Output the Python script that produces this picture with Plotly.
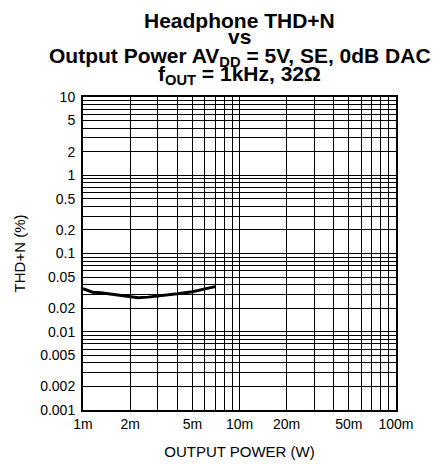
import plotly.graph_objects as go

# Data
power_w = [0.001, 0.00115, 0.0013, 0.0016, 0.0019, 0.00225, 0.0026, 0.0032, 0.004, 0.005, 0.006, 0.007]
thd_pct = [0.0355, 0.032, 0.0315, 0.030, 0.0285, 0.0272, 0.0277, 0.0288, 0.0305, 0.0325, 0.035, 0.0377]

x_label_vals = [0.001, 0.002, 0.005, 0.01, 0.02, 0.05, 0.1]
x_label_text = ["1m", "2m", "5m", "10m", "20m", "50m", "100m"]
y_label_vals = [10, 5, 2, 1, 0.5, 0.2, 0.1, 0.05, 0.02, 0.01, 0.005, 0.002, 0.001]
y_label_text = ["10", "5", "2", "1", "0.5", "0.2", "0.1", "0.05", "0.02", "0.01", "0.005", "0.002", "0.001"]

title_lines = [
    "<b>Headphone THD+N</b>",
    "<b>vs</b>",
    "<b>Output Power AV<sub>DD</sub> = 5V, SE, 0dB DAC</b>",
    "<b>f<sub>OUT</sub> = 1kHz, 32Ω</b>",
]
# baseline y (pixels from top) of each title line
title_baseline_px = [27, 44, 64, 82]

# grid positions (1..9 per decade)
x_grid = sorted({round(m * 10.0 ** e, 6) for e in (-3, -2) for m in range(1, 10)} | {0.1})
y_grid = sorted({round(m * 10.0 ** e, 6) for e in (-3, -2, -1, 0) for m in range(1, 10)} | {10.0})


def labels_for(grid, vals, texts):
    out = []
    for g in grid:
        t = ""
        for v, s in zip(vals, texts):
            if abs(g - v) / v < 1e-6:
                t = s
        out.append(t)
    return out


W, H = 442, 464
ML, MR, MT, MB = 83, 46, 97, 54
plot_h = H - MT - MB

fig = go.Figure()
fig.add_trace(go.Scatter(x=power_w, y=thd_pct, mode="lines",
                         line=dict(color="black", width=3), showlegend=False,
                         hoverinfo="skip"))

font = "Liberation Sans, Arial, sans-serif"
fig.update_layout(
    width=W, height=H,
    margin=dict(l=ML, r=MR, t=MT, b=MB, autoexpand=False),
    paper_bgcolor="white", plot_bgcolor="white",
    font=dict(family=font, color="black", size=14),
    xaxis=dict(type="log", range=[-3, -1], tickmode="array", automargin=False,
               tickvals=x_grid, ticktext=labels_for(x_grid, x_label_vals, x_label_text),
               showgrid=True, gridcolor="black", gridwidth=1,
               showline=True, linecolor="black", linewidth=2, mirror=True,
               ticks="", ticklabelstandoff=0, zeroline=False,
               tickfont=dict(size=14),
               title=dict(text="OUTPUT POWER (W)", font=dict(size=15), standoff=16)),
    yaxis=dict(type="log", range=[-3, 1], tickmode="array", automargin=False,
               tickvals=y_grid, ticktext=labels_for(y_grid, y_label_vals, y_label_text),
               showgrid=True, gridcolor="black", gridwidth=1,
               showline=True, linecolor="black", linewidth=2, mirror=True,
               ticks="", ticklabelstandoff=3, zeroline=False,
               tickfont=dict(size=14),
               title=dict(text="THD+N (%)", font=dict(size=15), standoff=11)),
)

for txt, ypx in zip(title_lines, title_baseline_px):
    fig.add_annotation(text=txt, xref="paper", yref="paper", x=0.5,
                       y=(H - MB - ypx) / plot_h, xanchor="center", yanchor="middle",
                       yshift=7, showarrow=False,
                       font=dict(size=21, family=font, color="black"))

fig.write_html("out.html", config={"displayModeBar": False},
               post_script="document.body.style.margin='0';document.body.style.overflow='hidden';")
